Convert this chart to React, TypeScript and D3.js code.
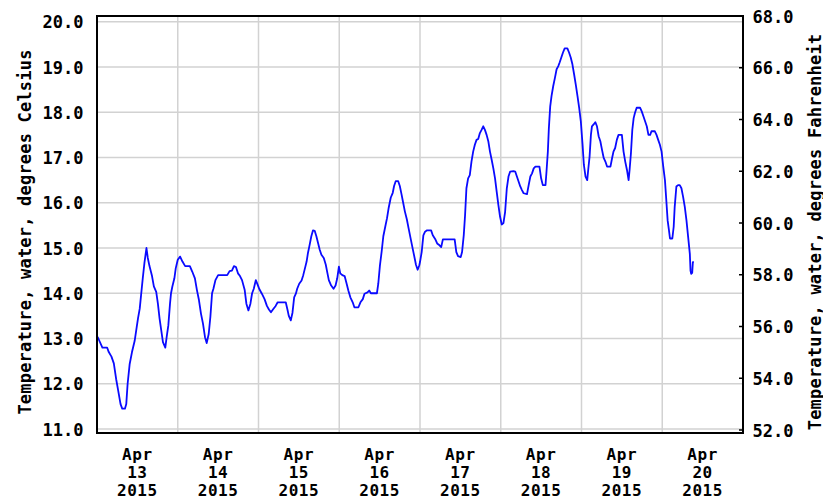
import React from "react";
import * as d3 from "d3";

const W = 823;
const H = 500;

const monthLabel = "Apr";
const yearLabel = "2015";
const dayLabels = ["13", "14", "15", "16", "17", "18", "19", "20"];
const celsiusTicks = [11, 12, 13, 14, 15, 16, 17, 18, 19, 20];
const fahrenheitTicks = [52, 54, 56, 58, 60, 62, 64, 66, 68];
const leftTitle = "Temperature, water, degrees Celsius";
const rightTitle = "Temperature, water, degrees Fahrenheit";

// [hour of day, water temperature °C]
const apr13: [number, number][] = [
  [0, 13.05], [0.4, 13.0], [1.6, 12.8], [3.0, 12.8], [3.5, 12.7], [4.3, 12.6], [5.0, 12.45], [5.7, 12.1],
  [6.3, 11.85], [7.0, 11.55], [7.5, 11.45], [8.3, 11.45], [8.7, 11.55], [9.1, 12.0], [9.7, 12.43], [10.4, 12.7],
  [11.2, 12.95], [11.8, 13.25], [12.2, 13.45], [12.7, 13.66], [13.1, 13.96], [13.6, 14.33], [14.1, 14.67],
  [14.7, 15.0], [15.1, 14.78], [15.6, 14.6], [16.3, 14.4], [16.9, 14.15], [17.6, 14.03], [18.1, 13.77],
  [18.6, 13.44], [19.1, 13.18], [19.6, 12.92], [20.3, 12.8], [20.7, 13.03], [21.2, 13.29], [21.7, 13.77],
  [22.0, 14.0], [22.4, 14.15], [23.0, 14.33], [23.4, 14.55],
];
const apr14: [number, number][] = [
  [0.0, 14.74], [0.7, 14.81], [1.4, 14.7], [2.2, 14.6], [3.6, 14.6], [4.3, 14.48], [5.1, 14.33], [5.7, 14.07],
  [6.3, 13.85], [6.9, 13.55], [7.5, 13.33], [8.1, 13.03], [8.6, 12.9], [9.2, 13.1], [9.7, 13.48], [10.2, 14.0],
  [10.6, 14.1], [11.2, 14.29], [12.0, 14.4], [14.7, 14.4], [15.4, 14.49], [16.1, 14.5], [16.7, 14.6],
  [17.3, 14.58], [17.9, 14.44], [18.5, 14.38], [19.1, 14.29], [19.9, 14.07], [20.4, 13.77], [21.0, 13.62],
  [21.6, 13.77], [22.1, 14.0], [22.6, 14.1], [23.2, 14.29], [23.8, 14.18],
];
const apr15: [number, number][] = [
  [0.2, 14.1], [1.0, 13.99], [1.8, 13.87], [2.5, 13.72], [3.1, 13.64], [3.7, 13.58], [4.4, 13.65], [5.1, 13.72],
  [5.7, 13.8], [8.1, 13.8], [8.6, 13.64], [9.0, 13.5], [9.6, 13.4], [10.1, 13.57], [10.6, 13.91], [11.1, 13.99],
  [11.5, 14.1], [12.1, 14.21], [12.8, 14.28], [13.3, 14.4], [13.8, 14.55], [14.3, 14.7], [14.7, 14.89],
  [15.2, 15.07], [15.7, 15.26], [16.2, 15.39], [16.7, 15.38], [17.2, 15.26], [17.7, 15.11], [18.2, 14.96],
  [18.7, 14.85], [19.4, 14.78], [20.0, 14.63], [20.5, 14.44], [20.9, 14.29], [21.6, 14.17], [22.3, 14.1],
  [22.9, 14.17], [23.4, 14.33], [23.9, 14.59],
];
const apr16: [number, number][] = [
  [0.3, 14.44], [0.9, 14.4], [1.6, 14.38], [2.2, 14.21], [2.7, 14.06], [3.3, 13.91], [4.0, 13.8], [4.5, 13.69],
  [5.7, 13.69], [6.3, 13.8], [7.0, 13.87], [7.5, 13.99], [8.4, 14.02], [8.9, 14.06], [9.4, 14.0], [11.2, 14.0],
  [11.6, 14.21], [12.1, 14.62], [12.6, 14.92], [13.1, 15.26], [13.7, 15.48], [14.2, 15.66], [14.7, 15.89],
  [15.3, 16.11], [15.9, 16.22], [16.3, 16.37], [16.8, 16.48], [17.5, 16.48], [18.0, 16.37], [18.5, 16.19],
  [19.0, 16.0], [19.5, 15.81], [20.1, 15.63], [20.6, 15.44], [21.3, 15.18], [21.9, 14.96], [22.4, 14.78],
  [22.8, 14.63], [23.3, 14.52], [23.8, 14.62],
];
const apr17: [number, number][] = [
  [0.0, 14.69], [0.5, 14.91], [1.0, 15.28], [1.5, 15.36], [2.1, 15.39], [3.3, 15.39], [3.8, 15.28], [4.5, 15.2],
  [5.1, 15.1], [5.8, 15.06], [6.3, 15.02], [6.8, 15.19], [7.8, 15.19], [10.3, 15.19], [10.8, 14.91],
  [11.3, 14.82], [12.1, 14.8], [12.5, 14.91], [13.0, 15.28], [13.4, 15.73], [13.8, 16.32], [14.3, 16.54],
  [14.8, 16.61], [15.3, 16.91], [15.8, 17.13], [16.3, 17.28], [16.8, 17.39], [17.3, 17.41], [17.8, 17.54],
  [18.3, 17.61], [18.8, 17.69], [19.3, 17.61], [19.8, 17.5], [20.3, 17.36], [20.8, 17.13], [21.3, 16.95],
  [21.8, 16.76], [22.3, 16.54], [22.8, 16.24], [23.3, 15.95], [23.8, 15.69],
];
const apr18: [number, number][] = [
  [0.3, 15.52], [0.8, 15.55], [1.3, 15.8], [1.8, 16.32], [2.3, 16.58], [2.8, 16.69], [3.8, 16.7], [4.3, 16.69],
  [4.8, 16.58], [5.3, 16.47], [5.8, 16.36], [6.3, 16.28], [6.8, 16.21], [7.8, 16.19], [8.3, 16.39],
  [8.8, 16.58], [9.3, 16.65], [9.8, 16.76], [10.3, 16.8], [11.5, 16.8], [12.0, 16.54], [12.5, 16.39],
  [13.3, 16.39], [13.6, 16.69], [14.0, 17.13], [14.3, 17.65], [14.7, 18.13], [15.1, 18.36], [15.6, 18.58],
  [16.1, 18.76], [16.6, 18.95], [17.1, 19.02], [17.5, 19.1], [18.0, 19.21], [18.5, 19.32], [19.0, 19.41],
  [19.8, 19.41], [20.3, 19.32], [20.8, 19.21], [21.3, 19.06], [21.8, 18.84], [22.3, 18.61], [22.8, 18.36],
  [23.3, 18.1], [23.8, 17.8],
];
const apr19: [number, number][] = [
  [0.3, 17.3], [0.7, 16.84], [1.2, 16.58], [1.7, 16.5], [2.0, 16.73], [2.4, 17.02], [2.8, 17.5], [3.1, 17.69],
  [3.6, 17.73], [4.1, 17.78], [4.6, 17.69], [5.1, 17.47], [5.6, 17.36], [6.1, 17.17], [6.6, 16.99],
  [7.1, 16.91], [7.6, 16.8], [8.6, 16.8], [9.1, 16.99], [9.5, 17.13], [10.0, 17.21], [10.5, 17.39],
  [11.0, 17.5], [12.0, 17.5], [12.5, 17.13], [13.0, 16.91], [13.5, 16.73], [14.0, 16.5], [14.3, 16.73],
  [14.7, 17.1], [15.1, 17.61], [15.5, 17.87], [15.9, 17.99], [16.4, 18.1], [17.4, 18.1], [17.9, 18.02],
  [18.4, 17.91], [18.9, 17.8], [19.4, 17.69], [19.9, 17.5], [20.4, 17.5], [20.8, 17.58], [21.8, 17.58],
  [22.3, 17.5], [22.8, 17.39], [23.3, 17.28], [23.8, 17.13],
];
const apr20: [number, number][] = [
  [0.3, 16.8], [0.8, 16.5], [1.2, 16.06], [1.6, 15.61], [2.0, 15.39], [2.3, 15.21], [3.0, 15.21], [3.4, 15.47],
  [3.7, 15.91], [4.2, 16.36], [4.7, 16.39], [5.2, 16.39], [5.7, 16.32], [6.2, 16.13], [6.7, 15.91],
  [7.2, 15.61], [7.7, 15.24], [8.2, 14.87], [8.4, 14.5], [8.6, 14.43], [8.9, 14.45], [9.1, 14.69], [9.4, 14.69],
];

const dailySeries = [apr13, apr14, apr15, apr16, apr17, apr18, apr19, apr20];

const FONT = "'DejaVu Sans Mono', monospace";

export default function App() {
  const start = new Date(2015, 3, 13);
  const end = new Date(2015, 3, 21);

  const x = d3.scaleTime().domain([start, end]).range([97, 743]);
  const yC = d3.scaleLinear().domain([11, 20]).range([429, 21.75]);
  const yF = d3.scaleLinear().domain([52, 68]).range([430, 16]);

  const points = dailySeries.flatMap((series, i) => {
    const dayStart = d3.timeDay.offset(start, i);
    return series.map(([h, v]) => ({ t: new Date(dayStart.getTime() + h * 3600e3), v }));
  });

  const line = d3
    .line<{ t: Date; v: number }>()
    .x((d) => x(d.t))
    .y((d) => yC(d.v));

  const days = d3.timeDay.range(start, end);
  const [x0, x1] = x.range();
  const top = 16;
  const bottom = 433;
  const midY = 232;

  return (
    <>
      <style>{`body{margin:0;}`}</style>
      <svg width={W} height={H} style={{ display: "block" }} xmlns="http://www.w3.org/2000/svg">
        <rect x={0} y={0} width={W} height={H} fill="#ffffff" />
        {/* horizontal gridlines (Celsius) */}
        {celsiusTicks.map((t) => (
          <line key={"hg" + t} x1={x0} x2={x1} y1={yC(t)} y2={yC(t)} stroke="#d2d2d2" strokeWidth={1.5} />
        ))}
        {/* vertical gridlines at midnight */}
        {days.slice(1).map((d, i) => (
          <line key={"vg" + i} x1={x(d)} x2={x(d)} y1={top} y2={bottom} stroke="#d2d2d2" strokeWidth={1.5} />
        ))}
        {/* data line */}
        <path d={line(points) || ""} fill="none" stroke="#0a0aff" strokeWidth={1.8} strokeLinejoin="round" />
        {/* right axis ticks */}
        {fahrenheitTicks.map((t) => (
          <line key={"ft" + t} x1={x1 - 4} x2={x1} y1={yF(t)} y2={yF(t)} stroke="#000" strokeWidth={1.5} />
        ))}
        {/* frame */}
        <rect x={x0} y={top} width={x1 - x0} height={bottom - top} fill="none" stroke="#000" strokeWidth={2} />
        {/* left tick labels */}
        {celsiusTicks.map((t) => (
          <text key={"cl" + t} x={83.5} y={yC(t) + 6.5} textAnchor="end" fontFamily={FONT} fontWeight="bold" fontSize={17} fill="#000">
            {t.toFixed(1)}
          </text>
        ))}
        {/* right tick labels */}
        {fahrenheitTicks.map((t) => (
          <text key={"fl" + t} x={752.5} y={yF(t) + 6.5} textAnchor="start" fontFamily={FONT} fontWeight="bold" fontSize={17} fill="#000">
            {t.toFixed(1)}
          </text>
        ))}
        {/* bottom labels: month / day / year */}
        {days.map((d, i) => {
          const cx = x(d3.timeHour.offset(d, 12));
          return (
            <text
              key={"dl" + i}
              fontFamily={FONT}
              fontWeight="bold"
              fontSize={16}
              letterSpacing={0.6}
              fill="#000"
              textAnchor="middle"
            >
              <tspan x={cx} y={459.5}>{monthLabel}</tspan>
              <tspan x={cx} y={478}>{dayLabels[i]}</tspan>
              <tspan x={cx} y={496}>{yearLabel}</tspan>
            </text>
          );
        })}
        {/* axis titles */}
        <text
          transform={`translate(30.5,${midY}) rotate(-90)`}
          textAnchor="middle"
          fontFamily={FONT}
          fontWeight="bold"
          fontSize={17}
          letterSpacing={0.2}
          fill="#000"
        >
          {leftTitle}
        </text>
        <text
          transform={`translate(820.5,${midY}) rotate(-90)`}
          textAnchor="middle"
          fontFamily={FONT}
          fontWeight="bold"
          fontSize={17}
          letterSpacing={0.2}
          fill="#000"
        >
          {rightTitle}
        </text>
      </svg>
    </>
  );
}
